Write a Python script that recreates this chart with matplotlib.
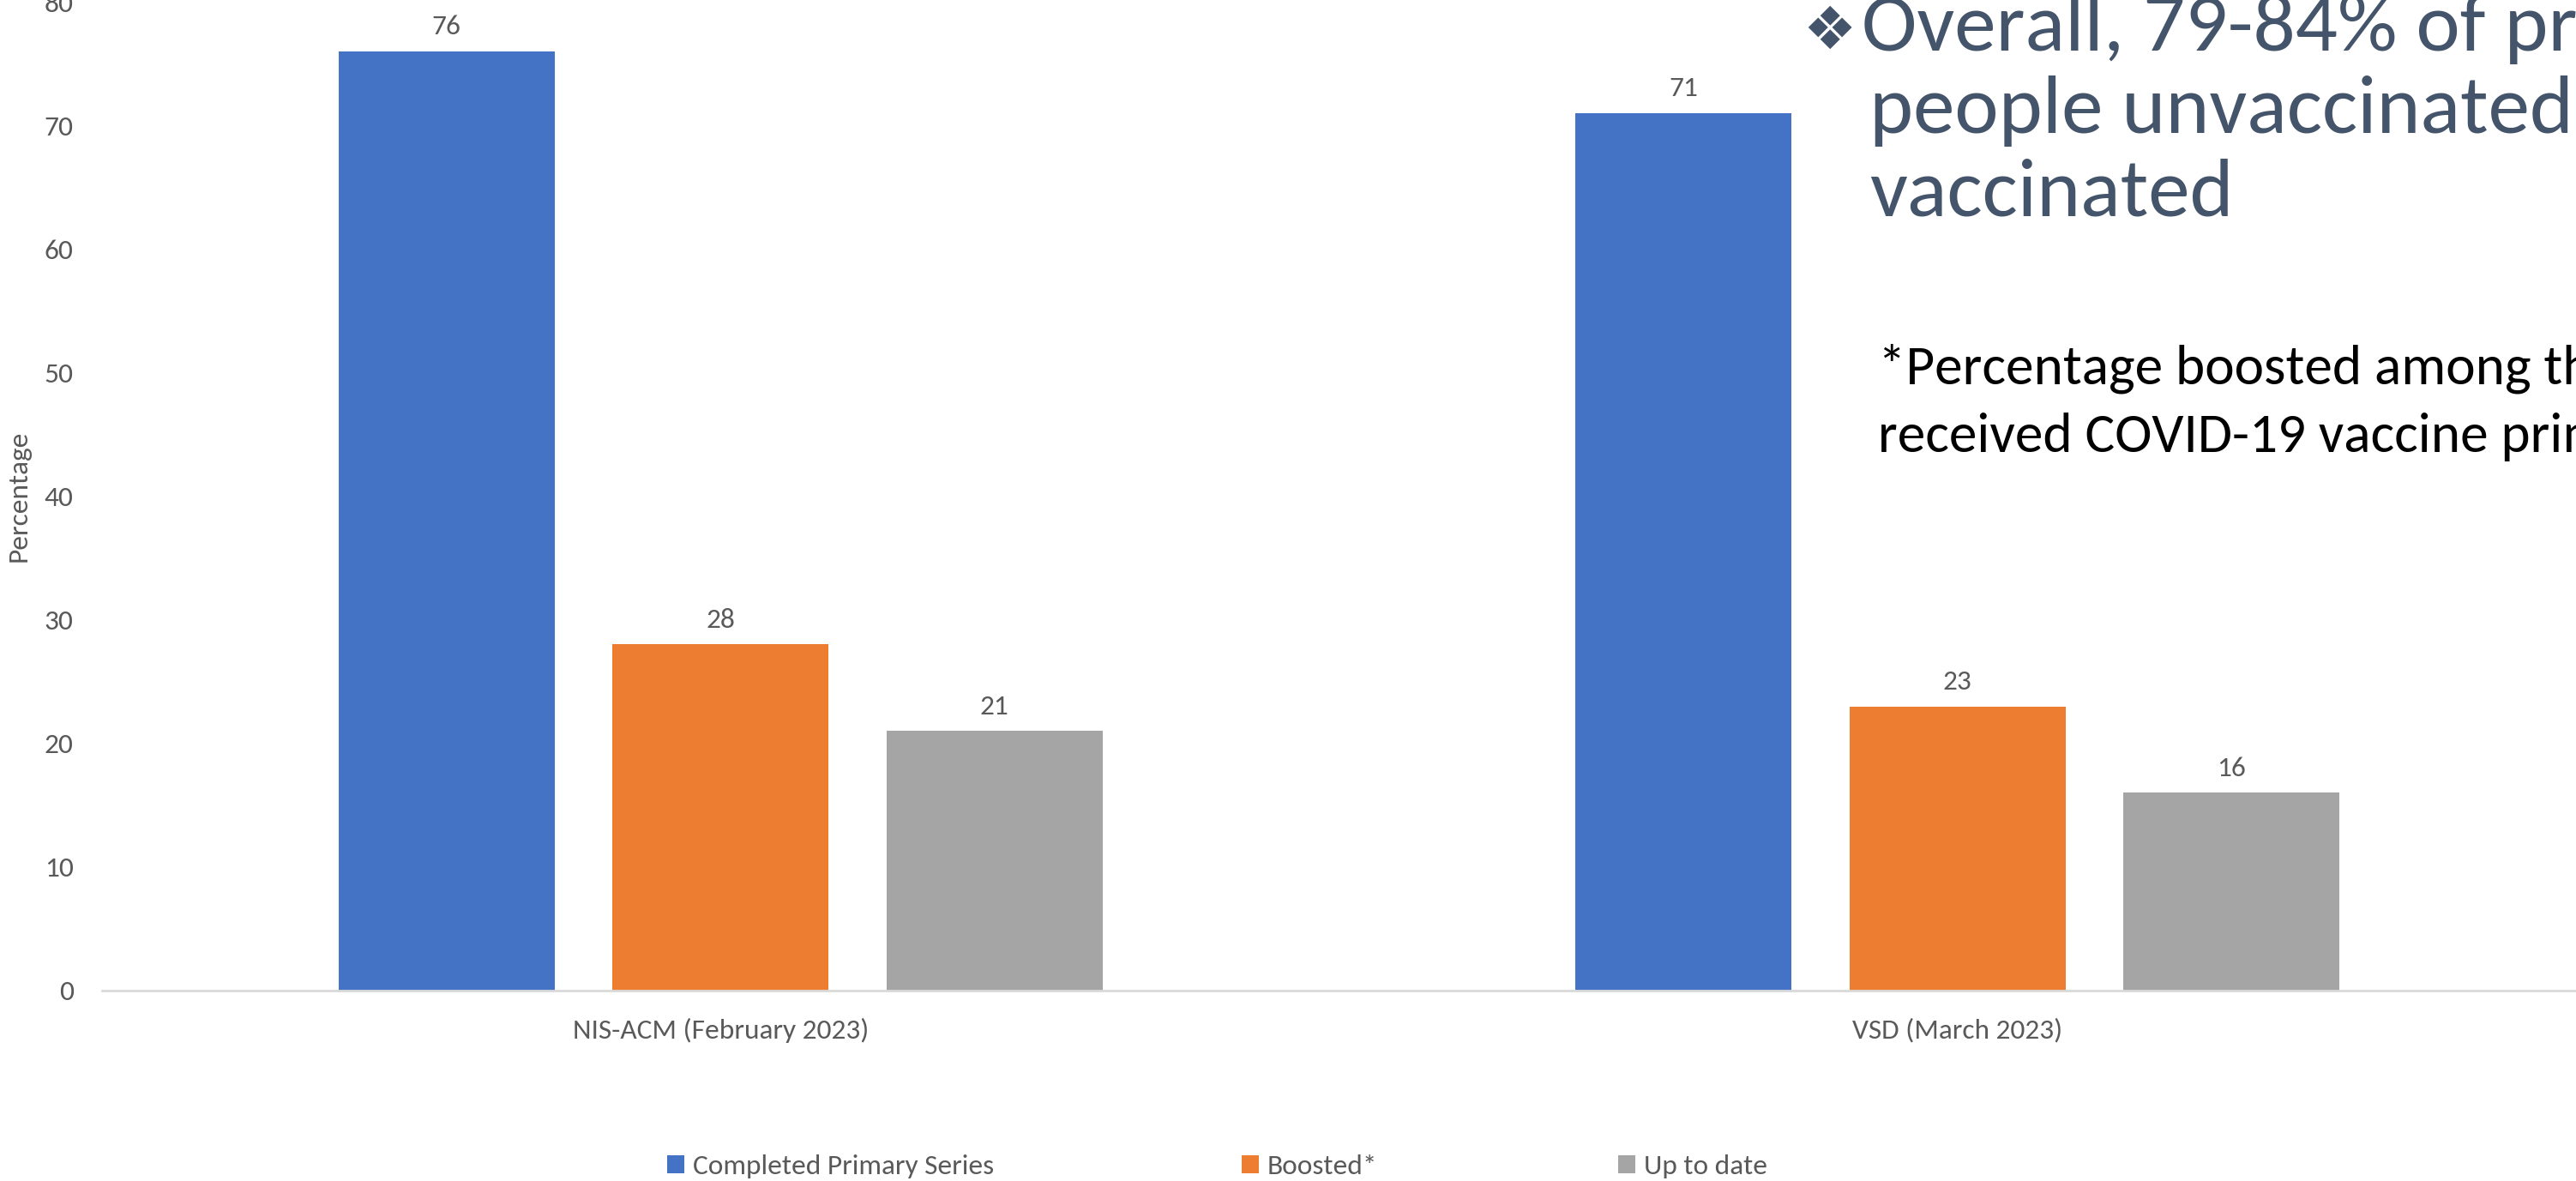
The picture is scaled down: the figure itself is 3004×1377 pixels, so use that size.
import numpy as np
import matplotlib
matplotlib.use("Agg")
import matplotlib.pyplot as plt
from matplotlib import font_manager
from matplotlib.patches import Patch

# ---- data ----
surveys = ["NIS-ACM (February 2023)", "VSD (March 2023)"]
series_names = ["Completed Primary Series", "Boosted*", "Up to date"]
completed_primary = [76, 71]
boosted = [28, 23]
up_to_date = [21, 16]
yticks = [0, 10, 20, 30, 40, 50, 60, 70, 80]

colors = ["#4472C4", "#ED7D31", "#A5A5A5"]
text_gray = "#595959"

# pick a narrow sans if one is available
installed = {f.name for f in font_manager.fontManager.ttflist}
candidates = ["Carlito", "Liberation Sans Narrow", "Roboto Condensed",
              "Open Sans Condensed", "Noto Sans Condensed", "DejaVu Sans Condensed",
              "Lato", "DejaVu Sans"]
base_font = next(f for f in candidates if f in installed)
narrow = base_font not in ("Lato", "DejaVu Sans")
plt.rcParams["font.family"] = [base_font, "DejaVu Sans"]

W, H = 3004, 1377
fig = plt.figure(figsize=(W / 100, H / 100), dpi=100)
ax = fig.add_axes([119 / W, 1 - 1155 / H, 1 - 119 / W, (1155 - 2) / H])

small = 24 if narrow else 24

x = np.arange(len(surveys))
step = 0.2215
width = 0.175
for i, (vals, name) in enumerate(zip([completed_primary, boosted, up_to_date], series_names)):
    pos = x + (i - 1) * step
    bars = ax.bar(pos, vals, width=width, color=colors[i], label=name)
    for b, v in zip(bars, vals):
        ax.annotate(f"{v}", (b.get_x() + b.get_width() / 2, v),
                    xytext=(0, 14), textcoords="offset points",
                    ha="center", va="baseline", fontsize=small, color=text_gray)

ax.set_xlim(-0.5, 1.5)
ax.set_ylim(0, 80)
ax.set_yticks(yticks)
ax.set_xticks(x)
ax.set_xticklabels(surveys)
ax.tick_params(axis="both", length=0, labelsize=small, labelcolor=text_gray)
ax.tick_params(axis="x", pad=23)
ax.tick_params(axis="y", pad=24)
for s in ["top", "right", "left"]:
    ax.spines[s].set_visible(False)
ax.spines["bottom"].set_color("#D9D9D9")
ax.spines["bottom"].set_linewidth(2)
ax.set_ylabel("Percentage", fontsize=small, color=text_gray)
ax.yaxis.set_label_coords(-0.029, 0.5)

# legend entries spread along the bottom
legend_x = [778 / W, 1448 / W, 1887 / W]
for name, c, lx in zip(series_names, colors, legend_x):
    fig.legend(handles=[Patch(facecolor=c, label=name)], loc="center left",
               bbox_to_anchor=(lx, 1 - 1360 / H), frameon=False, fontsize=small,
               labelcolor=text_gray, handlelength=0.6, handleheight=0.6,
               handletextpad=0.3, borderpad=0, borderaxespad=0)

# slide text overlapping the right side of the chart
slate = "#44546A"
fig.text(2102 / W, 1 - 57 / H, "\u2756", fontsize=50, color=slate,
         family=["DejaVu Sans"], va="baseline")
big_lines = ["Overall, 79-84% of pregnant", "people unvaccinated or not fully", "vaccinated"]
big_x = [2171, 2180, 2180]
big_base = [59, 155, 251]
for t, bx, by in zip(big_lines, big_x, big_base):
    fig.text(bx / W, 1 - by / H, t, fontsize=70, color=slate, va="baseline")

note_lines = ["*Percentage boosted among those who", "received COVID-19 vaccine primary series"]
note_base = [448, 527]
for t, ny in zip(note_lines, note_base):
    fig.text(2190 / W, 1 - ny / H, t, fontsize=47, color="black", va="baseline")

fig.savefig("out.png", dpi=100)
